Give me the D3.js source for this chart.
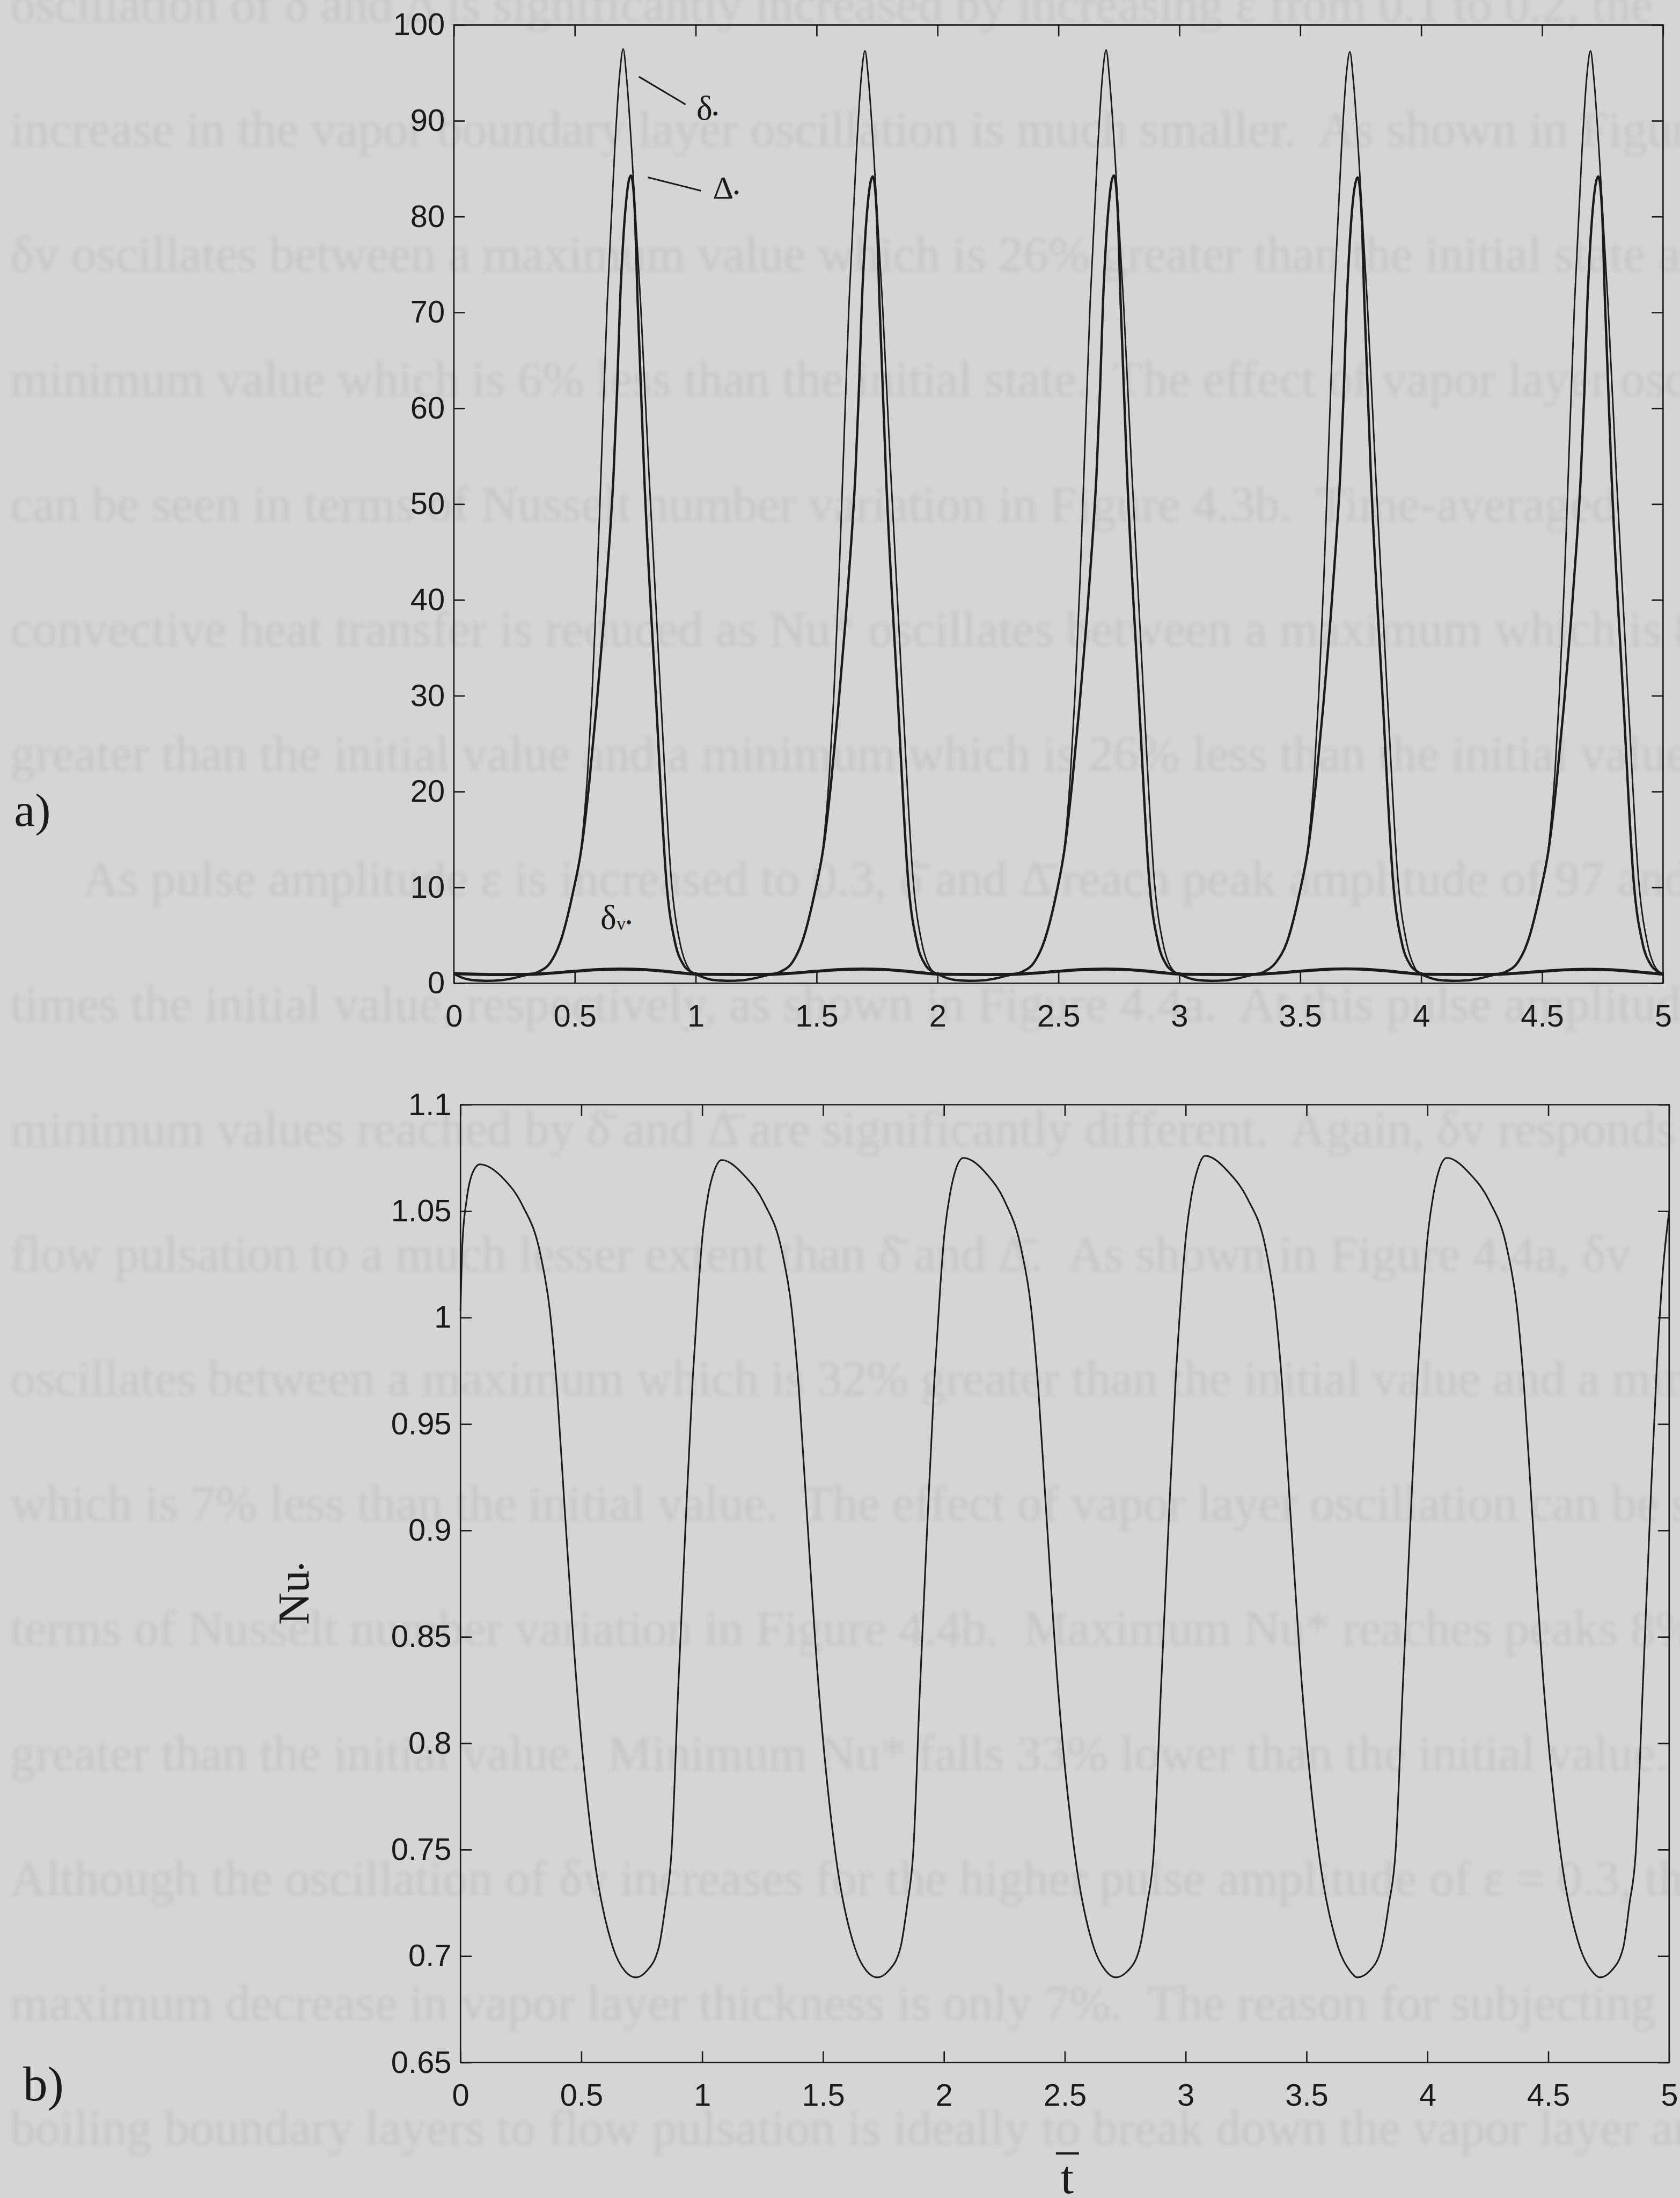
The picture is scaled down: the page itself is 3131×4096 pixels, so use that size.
<!DOCTYPE html>
<html>
<head>
<meta charset="utf-8">
<script src="https://cdn.jsdelivr.net/npm/d3@7"></script>
<style>
  html, body { margin: 0; padding: 0; background: #d5d5d5; overflow: hidden; }
  .page-text { white-space: pre; }
</style>
</head>
<body>
<div id="main"></div>
<script>
"use strict";

// scale from reference pixels to window pixels
var K = 3131 / 3568;

// tick values
var tTicks = [0, 0.5, 1, 1.5, 2, 2.5, 3, 3.5, 4, 4.5, 5];
var layerTicks = [0, 10, 20, 30, 40, 50, 60, 70, 80, 90, 100];
var nuTicks = [0.65, 0.7, 0.75, 0.8, 0.85, 0.9, 0.95, 1, 1.05, 1.1];

// a) delta* (thin line)
var deltaStar = [
  [0,1.0],[0.1,0.94],[0.2,0.91],[0.3,0.95],[0.35,1.2],[0.4,2.2],[0.44,4.3],[0.49,9.3],[0.53,15],[0.553,22],[0.571,30],[0.592,42],[0.608,53],[0.634,71],[0.665,87],[0.686,95],[0.7,97.5],[0.714,94.5],[0.735,87],[0.772,71],[0.807,53],[0.855,30],[0.9,10.5],[0.935,4.2],[0.965,1.8],
  [1,0.95],[1.1,0.92],[1.2,0.91],[1.3,0.95],[1.35,1.2],[1.4,2.2],[1.44,4.3],[1.49,9.3],[1.53,15],[1.553,22],[1.571,30],[1.592,42],[1.608,53],[1.634,71],[1.665,87],[1.686,95],[1.7,97.3],[1.714,94.4],[1.735,87],[1.772,71],[1.807,53],[1.855,30],[1.9,10.5],[1.935,4.2],[1.965,1.8],
  [2,0.95],[2.1,0.92],[2.2,0.91],[2.3,0.95],[2.35,1.2],[2.4,2.2],[2.44,4.3],[2.49,9.3],[2.528,15],[2.55,22],[2.568,30],[2.589,42],[2.605,53],[2.631,71],[2.662,87],[2.683,95],[2.697,97.4],[2.711,94.4],[2.732,87],[2.769,71],[2.804,53],[2.852,30],[2.897,10.5],[2.932,4.2],[2.962,1.8],
  [3,0.95],[3.1,0.92],[3.2,0.91],[3.3,0.95],[3.35,1.2],[3.4,2.2],[3.445,4.3],[3.495,9.3],[3.535,15],[3.558,22],[3.576,30],[3.597,42],[3.613,53],[3.639,71],[3.67,87],[3.691,95],[3.705,97.2],[3.719,94.3],[3.74,87],[3.777,71],[3.812,53],[3.86,30],[3.905,10.5],[3.94,4.2],[3.97,1.8],
  [4,0.95],[4.1,0.92],[4.2,0.91],[4.3,0.95],[4.35,1.2],[4.4,2.2],[4.44,4.3],[4.49,9.3],[4.53,15],[4.553,22],[4.571,30],[4.592,42],[4.608,53],[4.634,71],[4.665,87],[4.686,95],[4.7,97.3],[4.714,94.4],[4.735,87],[4.772,71],[4.807,53],[4.855,30],[4.9,10.5],[4.935,4.2],[4.965,1.8],
  [5,0.95]
];

// a) Delta* (heavier line)
var bigDeltaStar = [
  [0,1.0],[0.03,0.62],[0.07,0.35],[0.13,0.25],[0.19,0.3],[0.25,0.55],[0.3,0.88],[0.35,1.2],[0.4,2.2],[0.44,4.3],[0.49,9.2],[0.53,14.5],[0.56,21],[0.59,29],[0.62,38],[0.643,46],[0.66,53],[0.675,62],[0.687,71],[0.7,77.5],[0.712,81.5],[0.722,83.6],[0.732,84.3],[0.741,83.2],[0.748,80.5],[0.76,71],[0.787,53],[0.835,30],[0.88,10.2],[0.915,4.2],[0.95,1.9],[0.98,1.2],
  [1,0.95],[1.03,0.62],[1.07,0.35],[1.13,0.25],[1.19,0.3],[1.25,0.55],[1.3,0.88],[1.35,1.2],[1.4,2.2],[1.44,4.3],[1.49,9.2],[1.53,14.5],[1.56,21],[1.59,29],[1.62,38],[1.643,46],[1.66,53],[1.675,62],[1.687,71],[1.7,77.5],[1.712,81.5],[1.722,83.5],[1.732,84.2],[1.741,83.1],[1.748,80.5],[1.76,71],[1.787,53],[1.835,30],[1.88,10.2],[1.915,4.2],[1.95,1.9],[1.98,1.2],
  [2,0.95],[2.03,0.62],[2.07,0.35],[2.13,0.25],[2.19,0.3],[2.25,0.55],[2.3,0.88],[2.35,1.2],[2.4,2.2],[2.44,4.3],[2.49,9.2],[2.528,14.5],[2.557,21],[2.587,29],[2.617,38],[2.64,46],[2.657,53],[2.672,62],[2.684,71],[2.697,77.5],[2.709,81.5],[2.719,83.6],[2.729,84.3],[2.738,83.2],[2.745,80.5],[2.757,71],[2.784,53],[2.832,30],[2.877,10.2],[2.912,4.2],[2.947,1.9],[2.977,1.2],
  [3,0.95],[3.03,0.62],[3.07,0.35],[3.13,0.25],[3.19,0.3],[3.25,0.55],[3.3,0.88],[3.35,1.2],[3.4,2.2],[3.445,4.3],[3.495,9.2],[3.535,14.5],[3.565,21],[3.595,29],[3.625,38],[3.648,46],[3.665,53],[3.68,62],[3.692,71],[3.705,77.5],[3.717,81.5],[3.727,83.4],[3.737,84.1],[3.746,83],[3.753,80.5],[3.765,71],[3.792,53],[3.84,30],[3.885,10.2],[3.92,4.2],[3.955,1.9],[3.985,1.2],
  [4,0.95],[4.03,0.62],[4.07,0.35],[4.13,0.25],[4.19,0.3],[4.25,0.55],[4.3,0.88],[4.35,1.2],[4.4,2.2],[4.44,4.3],[4.49,9.2],[4.53,14.5],[4.56,21],[4.59,29],[4.62,38],[4.643,46],[4.66,53],[4.675,62],[4.687,71],[4.7,77.5],[4.712,81.5],[4.722,83.5],[4.732,84.2],[4.741,83.1],[4.748,80.5],[4.76,71],[4.787,53],[4.835,30],[4.88,10.2],[4.915,4.2],[4.95,1.9],[4.98,1.2],
  [5,0.95]
];

// a) delta_v* (bold line near the axis)
var deltaVapor = [
  [0,1.0],[0.1,0.93],[0.2,0.9],[0.3,0.92],[0.4,1.05],[0.5,1.25],[0.6,1.42],[0.69,1.48],[0.78,1.43],[0.86,1.28],[0.93,1.1],
  [1,0.95],[1.1,0.92],[1.2,0.9],[1.3,0.92],[1.4,1.05],[1.5,1.25],[1.6,1.42],[1.69,1.48],[1.78,1.43],[1.86,1.28],[1.93,1.1],
  [2,0.95],[2.1,0.92],[2.2,0.9],[2.3,0.92],[2.4,1.05],[2.5,1.25],[2.6,1.42],[2.69,1.48],[2.78,1.43],[2.86,1.28],[2.93,1.1],
  [3,0.95],[3.1,0.92],[3.2,0.9],[3.3,0.92],[3.4,1.05],[3.5,1.26],[3.6,1.44],[3.69,1.5],[3.78,1.44],[3.86,1.28],[3.93,1.1],
  [4,0.95],[4.1,0.92],[4.2,0.9],[4.3,0.92],[4.4,1.05],[4.5,1.24],[4.6,1.4],[4.69,1.45],[4.78,1.41],[4.86,1.27],[4.93,1.1],
  [5,0.95]
];

// b) Nu*
var nuStar = [
  [0,1.003],[0.008,1.035],[0.025,1.055],[0.05,1.068],[0.08,1.072],[0.18,1.065],[0.255,1.053],[0.33,1.03],[0.37,1.003],[0.4,0.965],[0.43,0.912],[0.483,0.824],[0.55,0.749],[0.631,0.704],[0.68,0.693],[0.725,0.69],[0.77,0.693],[0.82,0.704],[0.848,0.724],[0.873,0.749],[0.9,0.824],[0.93,0.9],[0.96,0.97],[0.985,1.015],
  [1,1.037],[1.025,1.058],[1.05,1.069],[1.08,1.074],[1.18,1.066],[1.255,1.054],[1.33,1.031],[1.37,1.004],[1.4,0.966],[1.43,0.913],[1.483,0.824],[1.55,0.749],[1.631,0.704],[1.68,0.693],[1.724,0.69],[1.77,0.693],[1.82,0.704],[1.848,0.724],[1.873,0.749],[1.9,0.824],[1.93,0.9],[1.96,0.97],[1.985,1.015],
  [2,1.037],[2.025,1.058],[2.05,1.07],[2.08,1.075],[2.18,1.067],[2.25,1.055],[2.32,1.032],[2.36,1.005],[2.39,0.967],[2.42,0.914],[2.473,0.824],[2.54,0.749],[2.62,0.704],[2.67,0.693],[2.71,0.69],[2.76,0.693],[2.81,0.704],[2.84,0.724],[2.868,0.749],[2.897,0.824],[2.928,0.9],[2.958,0.97],[2.984,1.015],
  [3,1.037],[3.025,1.058],[3.05,1.07],[3.08,1.076],[3.18,1.068],[3.255,1.056],[3.33,1.033],[3.37,1.005],[3.4,0.967],[3.43,0.914],[3.483,0.824],[3.55,0.749],[3.631,0.704],[3.68,0.693],[3.71,0.69],[3.76,0.693],[3.81,0.704],[3.84,0.724],[3.868,0.749],[3.897,0.824],[3.928,0.9],[3.958,0.97],[3.984,1.015],
  [4,1.037],[4.025,1.058],[4.05,1.07],[4.08,1.075],[4.18,1.067],[4.255,1.055],[4.33,1.032],[4.37,1.005],[4.4,0.967],[4.43,0.914],[4.483,0.824],[4.55,0.749],[4.631,0.704],[4.68,0.693],[4.714,0.69],[4.76,0.693],[4.81,0.704],[4.835,0.724],[4.862,0.749],[4.89,0.824],[4.92,0.905],[4.948,0.975],[4.974,1.022],
  [5,1.05]
];

// faint text of the scanned thesis page behind the figure
var pageLines = [
  "oscillation of δ̄ and Δ̄ is significantly increased by increasing ε from 0.1 to 0.2, the",
  "increase in the vapor boundary layer oscillation is much smaller.  As shown in Figure 4.3a,",
  "δv oscillates between a maximum value which is 26% greater than the initial state and a",
  "minimum value which is 6% less than the initial state.  The effect of vapor layer oscillation",
  "can be seen in terms of Nusselt number variation in Figure 4.3b.  Time-averaged",
  "convective heat transfer is reduced as Nu* oscillates between a maximum which is 8%",
  "greater than the initial value and a minimum which is 26% less than the initial value.",
  "As pulse amplitude ε is increased to 0.3, δ̄ and Δ̄ reach peak amplitude of 97 and 84",
  "times the initial value, respectively, as shown in Figure 4.4a.  At this pulse amplitude, the",
  "minimum values reached by δ̄ and Δ̄ are significantly different.  Again, δv responds to",
  "flow pulsation to a much lesser extent than δ̄ and Δ̄.  As shown in Figure 4.4a, δv",
  "oscillates between a maximum which is 32% greater than the initial value and a minimum",
  "which is 7% less than the initial value.  The effect of vapor layer oscillation can be seen in",
  "terms of Nusselt number variation in Figure 4.4b.  Maximum Nu* reaches peaks 8%",
  "greater than the initial value.  Minimum Nu* falls 33% lower than the initial value.",
  "Although the oscillation of δv increases for the higher pulse amplitude of ε = 0.3, the",
  "maximum decrease in vapor layer thickness is only 7%.  The reason for subjecting",
  "boiling boundary layers to flow pulsation is ideally to break down the vapor layer and"
];

var INK = "#1b1b1b";
var serif = "Liberation Serif, Times New Roman, serif";

var svg = d3.select("#main").append("svg").attr("width", 3131).attr("height", 4096);
svg.append("defs").append("filter").attr("id", "soft")
  .attr("x", -0.05).attr("y", -0.5).attr("width", 1.1).attr("height", 2)
  .append("feGaussianBlur").attr("stdDeviation", 4);
svg.append("rect").attr("width", 3131).attr("height", 4096).attr("fill", "#d5d5d5");

var page = svg.append("g").attr("transform", "scale(" + K + ")");

page.append("g").attr("filter", "url(#soft)")
  .selectAll("text").data(pageLines).join("text")
  .attr("class", "page-text")
  .attr("x", function(d, i) { return i === 7 ? 176 : 22; })
  .attr("y", function(d, i) { return 45 + i * 265.3; })
  .attr("font-family", serif)
  .attr("font-size", 106)
  .attr("fill", "#c8c8c8")
  .attr("stroke", "#c8c8c8")
  .attr("stroke-width", 1)
  .text(function(d) { return d; });

function styleAxis(sel) {
  sel.select(".domain").remove();
  sel.attr("font-family", "Liberation Sans, Arial, Helvetica, sans-serif").attr("font-size", 66);
  sel.selectAll(".tick line").attr("stroke", INK).attr("stroke-width", 3);
  sel.selectAll(".tick text").attr("fill", INK);
}

function panel(o) {
  var g = page.append("g");
  var x = d3.scaleLinear().domain([0, 5]).range(o.xr);
  var y = d3.scaleLinear().domain(o.yd).range(o.yr);

  g.append("g").attr("transform", "translate(0," + o.yr[0] + ")")
    .call(d3.axisBottom(x).tickValues(tTicks).tickFormat(String).tickSize(-24).tickSizeOuter(0).tickPadding(45))
    .call(styleAxis);
  g.append("g").attr("transform", "translate(0," + o.yr[1] + ")")
    .call(d3.axisTop(x).tickValues(tTicks).tickFormat("").tickSize(-24).tickSizeOuter(0))
    .call(styleAxis);
  g.append("g").attr("transform", "translate(" + o.xr[0] + ",0)")
    .call(d3.axisLeft(y).tickValues(o.ticks).tickFormat(String).tickSize(-24).tickSizeOuter(0).tickPadding(19))
    .call(styleAxis);
  g.append("g").attr("transform", "translate(" + o.xr[1] + ",0)")
    .call(d3.axisRight(y).tickValues(o.ticks).tickFormat("").tickSize(-24).tickSizeOuter(0))
    .call(styleAxis);

  g.append("rect")
    .attr("x", o.xr[0]).attr("y", o.yr[1])
    .attr("width", o.xr[1] - o.xr[0]).attr("height", o.yr[0] - o.yr[1])
    .attr("fill", "none").attr("stroke", INK).attr("stroke-width", 3);

  var line = d3.line()
    .x(function(d) { return x(d[0]); })
    .y(function(d) { return y(d[1]); })
    .curve(d3.curveMonotoneX);

  o.series.forEach(function(s) {
    g.append("path").datum(s.data)
      .attr("d", line)
      .attr("fill", "none")
      .attr("stroke", INK)
      .attr("stroke-width", s.width)
      .attr("stroke-linejoin", "round");
  });
  return { g: g, x: x, y: y };
}

var A = panel({
  xr: [964, 3532], yr: [2088, 53], yd: [0, 100], ticks: layerTicks,
  series: [
    { data: deltaVapor, width: 6.5 },
    { data: deltaStar, width: 3.2 },
    { data: bigDeltaStar, width: 5 }
  ]
});

var B = panel({
  xr: [978, 3545], yr: [4380, 2346], yd: [0.65, 1.1], ticks: nuTicks,
  series: [{ data: nuStar, width: 3.5 }]
});

// curve labels of panel a, placed in data units
var curveLabels = [
  { name: "δ", lead: [[0.765, 94.6], [0.958, 91.7]], at: [1.003, 90.1], size: 72 },
  { name: "Δ", lead: [[0.802, 84.1], [1.022, 82.7]], at: [1.071, 81.9], size: 68 }
];

curveLabels.forEach(function(c) {
  A.g.append("line")
    .attr("x1", A.x(c.lead[0][0])).attr("y1", A.y(c.lead[0][1]))
    .attr("x2", A.x(c.lead[1][0])).attr("y2", A.y(c.lead[1][1]))
    .attr("stroke", INK).attr("stroke-width", 3.5);
  var t = A.g.append("text")
    .attr("x", A.x(c.at[0])).attr("y", A.y(c.at[1]))
    .attr("font-family", serif).attr("font-size", c.size).attr("fill", INK)
    .text(c.name);
  t.append("tspan").attr("font-size", 36).text("•");
});

var dv = A.g.append("text")
  .attr("x", A.x(0.606)).attr("y", A.y(5.65))
  .attr("font-family", serif).attr("font-size", 72).attr("fill", INK)
  .text("δ");
dv.append("tspan").attr("font-size", 40).attr("dy", 2).text("v");
dv.append("tspan").attr("font-size", 36).attr("dy", -4).text("•");

// axis title of panel b
var nu = page.append("text")
  .attr("transform", "translate(655,3385) rotate(-90)")
  .attr("text-anchor", "middle")
  .attr("font-family", serif).attr("font-size", 95).attr("fill", INK)
  .text("Nu");
nu.append("tspan").attr("font-size", 44).text("•");

// t-bar under panel b
var tMid = (B.x.range()[0] + B.x.range()[1]) / 2 + 5;
page.append("text")
  .attr("x", tMid).attr("y", 4657)
  .attr("text-anchor", "middle")
  .attr("font-family", serif).attr("font-size", 100).attr("fill", INK)
  .text("t");
page.append("line")
  .attr("x1", tMid - 24).attr("x2", tMid + 25)
  .attr("y1", 4573).attr("y2", 4573)
  .attr("stroke", INK).attr("stroke-width", 5);

// panel tags
page.append("text").attr("x", 30).attr("y", 1754)
  .attr("font-family", serif).attr("font-size", 100).attr("fill", INK).text("a)");
page.append("text").attr("x", 49).attr("y", 4460)
  .attr("font-family", serif).attr("font-size", 104).attr("fill", INK).text("b)");
</script>
</body>
</html>
